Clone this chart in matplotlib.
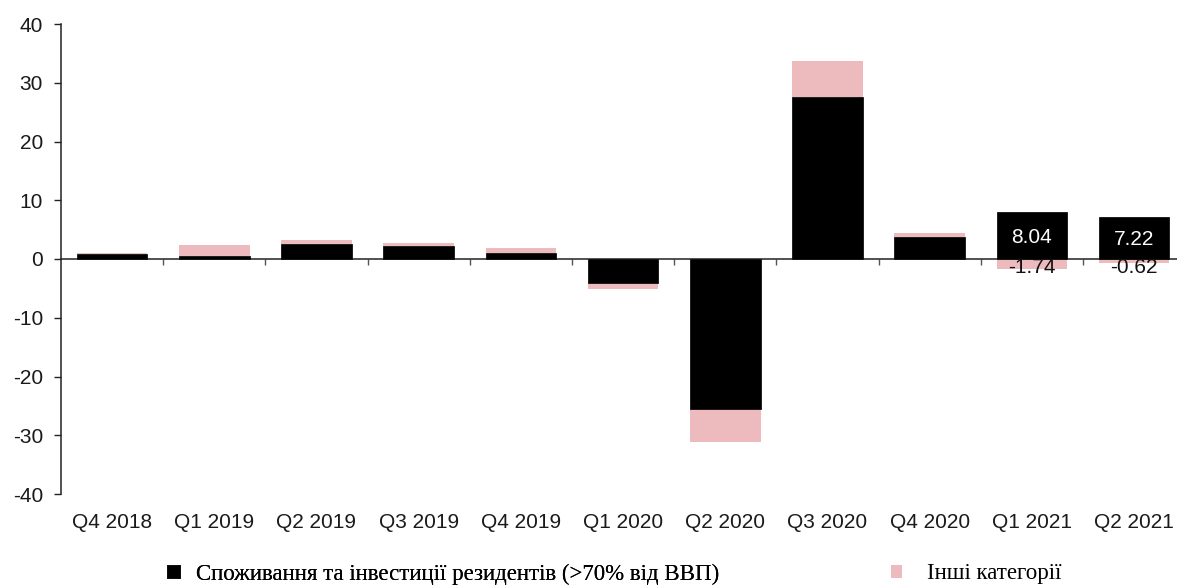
import matplotlib
matplotlib.use("Agg")
import matplotlib.pyplot as plt
import numpy as np

plt.rcParams["axes.unicode_minus"] = False

categories = ["Q4 2018", "Q1 2019", "Q2 2019", "Q3 2019", "Q4 2019", "Q1 2020",
              "Q2 2020", "Q3 2020", "Q4 2020", "Q1 2021", "Q2 2021"]
consumption = [0.85, 0.55, 2.6, 2.15, 1.1, -4.15, -25.6, 27.6, 3.7, 8.04, 7.22]
other = [0.1, 1.8, 0.6, 0.6, 0.7, -0.9, -5.6, 6.15, 0.65, -1.74, -0.62]
labeled = [9, 10]
yticks = [-40, -30, -20, -10, 0, 10, 20, 30, 40]
label_black = "Споживання та інвестиції резидентів (>70% від ВВП)"
label_pink = "Інші категорії"

BLACK = "#000000"
PINK = "#EDBBBE"
AXC = "#222222"

fig = plt.figure(figsize=(11.77, 5.85), dpi=100)
W, H = 1177, 585
ax = fig.add_axes([61 / W, 1 - 494 / H, 1 - 61 / W, (494 - 24) / H])

x = np.arange(len(categories))
cons = np.array(consumption)
oth = np.array(other)
bottom_other = np.where(np.sign(oth) == np.sign(cons), cons, 0.0)

b1 = ax.bar(x, cons, width=0.69, color=BLACK, edgecolor="#111111", linewidth=0.6, zorder=3)
b2 = ax.bar(x, oth, bottom=bottom_other, width=0.69, color=PINK, linewidth=0, zorder=2)

ax.set_xlim(-0.5, 10.42)
ax.set_ylim(-40, 40)

for s in ["top", "right"]:
    ax.spines[s].set_visible(False)
ax.spines["left"].set_color(AXC)
ax.spines["left"].set_linewidth(1.1)
ax.spines["bottom"].set_position(("data", 0))
ax.spines["bottom"].set_color(AXC)
ax.spines["bottom"].set_linewidth(1.1)

ax.set_yticks(yticks)
ax.tick_params(axis="y", direction="out", length=5, width=1.0, color=AXC,
               pad=8, labelsize=15, labelcolor="#1a1a1a")
ax.set_xticks(np.arange(0.5, len(categories) - 0.5, 1.0))
ax.set_xticklabels([])
ax.tick_params(axis="x", direction="out", length=4, width=1.0, color="#555555")

sec = ax.secondary_xaxis(0.0)
sec.set_xticks(x)
sec.set_xticklabels(categories)
sec.tick_params(length=0, pad=13.5, labelsize=15, labelcolor="#1a1a1a")
sec.spines["bottom"].set_visible(False)

for lab in ax.get_yticklabels() + sec.get_xticklabels():
    lab.set_fontfamily("Liberation Sans")

for i in labeled:
    ax.text(x[i], cons[i] * 0.46, f"{cons[i]:.2f}", color="white", ha="center",
            va="center", fontsize=15, family="Liberation Sans", zorder=5)
    ax.annotate(f"{oth[i]:.2f}", xy=(x[i], 0), xytext=(0, -6.2), textcoords="offset points",
                ha="center", va="center", fontsize=15, family="Liberation Sans",
                color="#111111", zorder=5)

leg1 = fig.legend([b1], [label_black], loc="center left",
                  bbox_to_anchor=(167 / W, 1 - 574 / H), frameon=False,
                  prop={"family": "Liberation Serif", "size": 16.5},
                  handlelength=0.55, handleheight=0.55, handletextpad=0.7,
                  borderpad=0, borderaxespad=0)
fig.add_artist(leg1)
leg2 = fig.legend([b2], [label_pink], loc="center left",
                  bbox_to_anchor=(891 / W, 1 - 574 / H), frameon=False,
                  prop={"family": "Liberation Serif", "size": 16.5},
                  handlelength=0.5, handleheight=0.5, handletextpad=1.05,
                  borderpad=0, borderaxespad=0)

fig.savefig("out.png", dpi=100)
